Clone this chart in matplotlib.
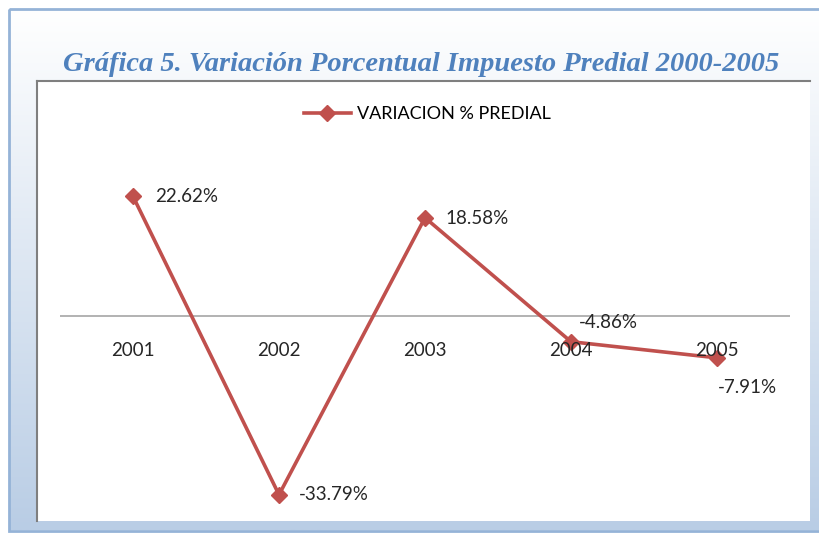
import matplotlib
matplotlib.use('Agg')
import matplotlib.pyplot as plt
import numpy as np
from matplotlib.patches import Rectangle

years = ['2001', '2002', '2003', '2004', '2005']
variacion = [22.62, -33.79, 18.58, -4.86, -7.91]
value_labels = ['22.62%', '-33.79%', '18.58%', '-4.86%', '-7.91%']
label_offsets = [(22, 0), (20, 0), (20, -1), (8, 19), (1, -30)]  # pixels

W, H = 820, 533
fig = plt.figure(figsize=(W / 100, H / 100), dpi=100)

def fx(x):
    return x / W

def fy(y):
    return 1 - y / H

# background frame with soft blue gradient
bg = fig.add_axes([0, 0, 1, 1])
bg.set_xlim(0, W)
bg.set_ylim(H, 0)
bg.axis('off')
grad = np.linspace(0, 1, 256).reshape(-1, 1)
top = np.array([1.0, 1.0, 1.0])
bot = np.array([0xb9, 0xcd, 0xe5]) / 255
img = top + grad[..., None] * (bot - top)
bg.imshow(img, extent=[10, W + 20, 530, 10], aspect='auto', zorder=0)
bg.add_patch(Rectangle((9, 9), W + 20, 522, fill=False, edgecolor='#95b3d7', lw=2, zorder=1))
# inner chart box
bg.add_patch(Rectangle((37, 81), 773, 440, facecolor='white', edgecolor='none', zorder=2))
bg.plot([37, 37], [521, 81], color='#7f7f7f', lw=1.5, zorder=3)
bg.plot([37, 810], [81, 81], color='#7f7f7f', lw=1.5, zorder=3)

fig.text(fx(421), fy(64), 'Gráfica 5. Variación Porcentual Impuesto Predial 2000-2005',
         ha='center', va='center', fontsize=20.5, fontweight='bold', fontstyle='italic',
         family='Liberation Serif', color='#4f81bd')

# plot area
ax = fig.add_axes([fx(60), fy(521), fx(790) - fx(60), (521 - 81) / H])
ax.set_facecolor('none')
x = np.arange(len(years))
ax.set_xlim(-0.5, len(years) - 0.5)
ax.set_ylim(-(521 - 316) / 5.29, (316 - 81) / 5.29)
for s in ax.spines.values():
    s.set_visible(False)
ax.set_xticks([])
ax.set_yticks([])
ax.axhline(0, color='#a6a6a6', lw=1.2, zorder=1)

ax.plot(x, variacion, color='#c0504d', lw=2.6, marker='D', markersize=8,
        label='VARIACION % PREDIAL', zorder=3)

font = 'Lato'
for i, yr in enumerate(years):
    ax.annotate(yr, (x[i], 0), xytext=(0, -34), textcoords='offset pixels',
                ha='center', va='center', fontsize=13.5, family=font, color='#262626')

for i, lab in enumerate(value_labels):
    ax.annotate(lab, (x[i], variacion[i]), xytext=label_offsets[i], textcoords='offset pixels',
                ha='left', va='center', fontsize=13.5, family=font, color='#262626', zorder=4)

ax.legend(loc='center', bbox_to_anchor=(0.503, 0.925), frameon=False,
          prop={'family': font, 'size': 13}, handlelength=2.6, handletextpad=0.35)

fig.savefig('out.png', dpi=100)
